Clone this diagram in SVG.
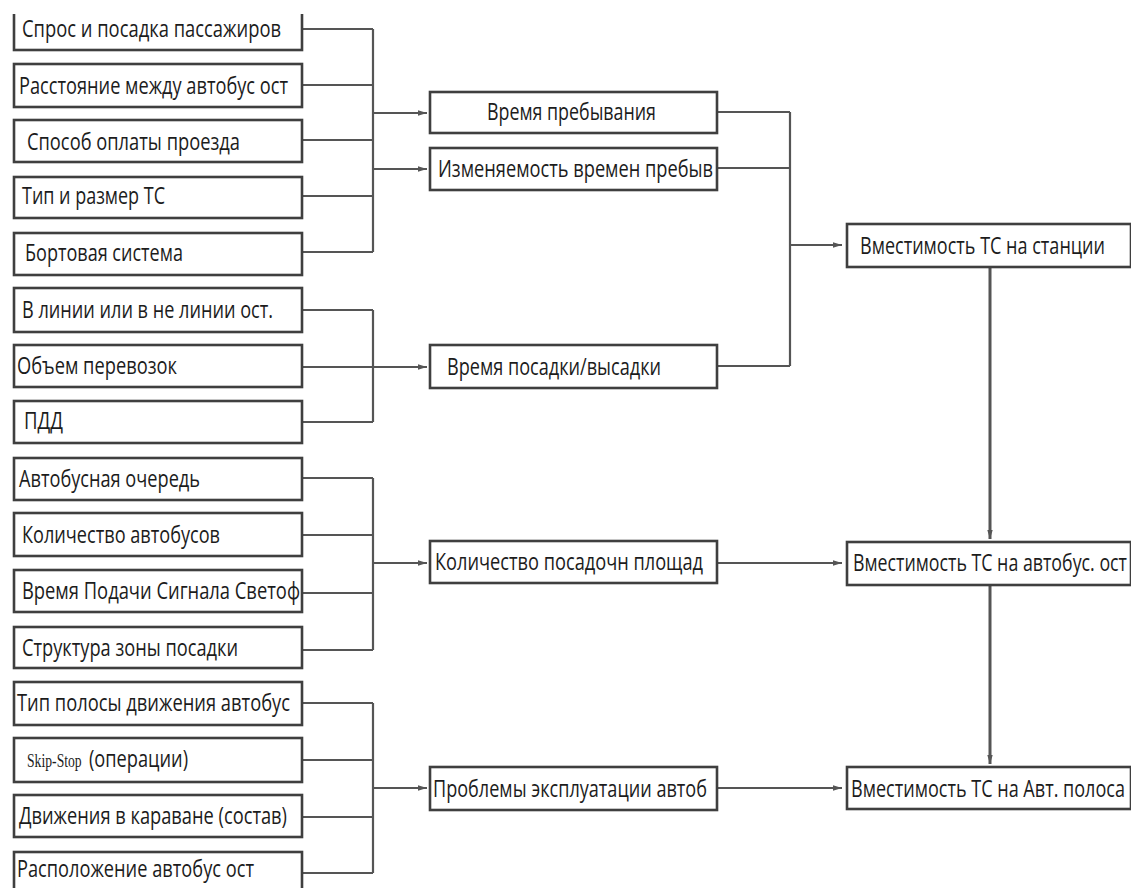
<svg xmlns="http://www.w3.org/2000/svg" width="1131" height="888" viewBox="0 0 1131 888">
<style>
.box{fill:#fff;stroke:#3f3f3f;stroke-width:2.6}
.t{font-family:"Open Sans","Noto Sans","DejaVu Sans",sans-serif;font-size:23px;fill:#1c1c1c}
.c{fill:none;stroke:#555;stroke-width:2.2}
</style>
<defs>
<marker id="ah" markerUnits="userSpaceOnUse" markerWidth="10" markerHeight="8" refX="9" refY="3.5" orient="auto">
<path d="M0,0.8 L9,3.5 L0,6.2 z" fill="#555"/>
</marker>
<clipPath id="topclip"><rect x="0" y="14" width="1131" height="874"/></clipPath>
</defs>
<rect width="1131" height="888" fill="#fff"/>

<g id="connectors">
<path class="c" d="M302,29 H373 M302,85 H373 M302,140 H373 M302,196 H373 M302,252 H373 M373,29 V252"/>
<path class="c" d="M373,113 H427" marker-end="url(#ah)"/>
<path class="c" d="M373,169 H427" marker-end="url(#ah)"/>
<path class="c" d="M302,310 H373 M302,367 H373 M302,422 H373 M373,310 V422"/>
<path class="c" d="M373,367 H427" marker-end="url(#ah)"/>
<path class="c" d="M302,478 H373 M302,535 H373 M302,593 H373 M302,650 H373 M373,478 V650"/>
<path class="c" d="M373,563 H427" marker-end="url(#ah)"/>
<path class="c" d="M302,703 H373 M302,760 H373 M302,817 H373 M302,873 H373 M373,703 V873"/>
<path class="c" d="M373,788 H427" marker-end="url(#ah)"/>
<path class="c" d="M717,112 H790 M717,168 H790 M717,366 H790 M790,112 V366"/>
<path class="c" d="M790,245 H842" marker-end="url(#ah)"/>
<path class="c" d="M717,563 H842" marker-end="url(#ah)"/>
<path class="c" d="M717,788 H842" marker-end="url(#ah)"/>
<path class="c" style="stroke-width:3" d="M990,267 V539" marker-end="url(#ah)"/>
<path class="c" style="stroke-width:3" d="M990,585 V764" marker-end="url(#ah)"/>
</g>

<g id="n1" clip-path="url(#topclip)"><rect class="box" x="14" y="8" width="288" height="42"/><text class="t" x="22" y="37" textLength="259" lengthAdjust="spacingAndGlyphs">Спрос и посадка пассажиров</text></g>
<g id="n2"><rect class="box" x="14" y="64" width="288" height="43"/><text class="t" x="19" y="94" textLength="269" lengthAdjust="spacingAndGlyphs">Расстояние между автобус ост</text></g>
<g id="n3"><rect class="box" x="14" y="120" width="288" height="42"/><text class="t" x="27" y="150" textLength="213" lengthAdjust="spacingAndGlyphs">Способ оплаты проезда</text></g>
<g id="n4"><rect class="box" x="14" y="177" width="288" height="41"/><text class="t" x="22" y="204" textLength="143" lengthAdjust="spacingAndGlyphs">Тип и размер ТС</text></g>
<g id="n5"><rect class="box" x="14" y="233" width="288" height="42"/><text class="t" x="25" y="261" textLength="158" lengthAdjust="spacingAndGlyphs">Бортовая система</text></g>

<g id="n6"><rect class="box" x="14" y="288" width="288" height="44"/><text class="t" x="22" y="318" textLength="251" lengthAdjust="spacingAndGlyphs">В линии или в не линии ост.</text></g>
<g id="n7"><rect class="box" x="14" y="345" width="288" height="42"/><text class="t" x="17" y="374" textLength="160" lengthAdjust="spacingAndGlyphs">Объем перевозок</text></g>
<g id="n8"><rect class="box" x="14" y="401" width="288" height="42"/><text class="t" x="24" y="429" textLength="39" lengthAdjust="spacingAndGlyphs">ПДД</text></g>

<g id="n9"><rect class="box" x="14" y="458" width="288" height="42"/><text class="t" x="19" y="487" textLength="181" lengthAdjust="spacingAndGlyphs">Автобусная очередь</text></g>
<g id="n10"><rect class="box" x="14" y="513" width="288" height="43"/><text class="t" x="22" y="543" textLength="198" lengthAdjust="spacingAndGlyphs">Количество автобусов</text></g>
<g id="n11"><rect class="box" x="14" y="570" width="288" height="42"/><text class="t" x="22" y="599" textLength="278" lengthAdjust="spacingAndGlyphs">Время Подачи Сигнала Светоф</text></g>
<g id="n12"><rect class="box" x="14" y="627" width="288" height="41"/><text class="t" x="22" y="656" textLength="216" lengthAdjust="spacingAndGlyphs">Структура зоны посадки</text></g>

<g id="n13"><rect class="box" x="14" y="682" width="288" height="43"/><text class="t" x="17" y="711" textLength="273" lengthAdjust="spacingAndGlyphs">Тип полосы движения автобус</text></g>
<g id="n14"><rect class="box" x="14" y="738" width="288" height="44"/><text class="t" transform="translate(27,767) scale(0.72,1)" x="0" y="0" style="font-family:'Liberation Serif',serif;font-size:19px">Skip-Stop</text><text class="t" x="89" y="767" textLength="99" lengthAdjust="spacingAndGlyphs">(операции)</text></g>
<g id="n15"><rect class="box" x="14" y="795" width="288" height="42"/><text class="t" x="19" y="824" textLength="268" lengthAdjust="spacingAndGlyphs">Движения в караване (состав)</text></g>
<g id="n16"><rect class="box" x="14" y="852" width="288" height="44"/><text class="t" x="17" y="877" textLength="237" lengthAdjust="spacingAndGlyphs">Расположение автобус ост</text></g>

<g id="m1"><rect class="box" x="430" y="92" width="287" height="41"/><text class="t" x="487" y="120" textLength="169" lengthAdjust="spacingAndGlyphs">Время пребывания</text></g>
<g id="m2"><rect class="box" x="430" y="148" width="287" height="42"/><text class="t" x="438" y="177" textLength="275" lengthAdjust="spacingAndGlyphs">Изменяемость времен пребыв</text></g>
<g id="m3"><rect class="box" x="430" y="345" width="287" height="43"/><text class="t" x="447" y="375" textLength="214" lengthAdjust="spacingAndGlyphs">Время посадки/высадки</text></g>
<g id="m4"><rect class="box" x="430" y="541" width="287" height="42"/><text class="t" x="435" y="570" textLength="268" lengthAdjust="spacingAndGlyphs">Количество посадочн площад</text></g>
<g id="m5"><rect class="box" x="430" y="767" width="287" height="43"/><text class="t" x="433" y="797" textLength="274" lengthAdjust="spacingAndGlyphs">Проблемы эксплуатации автоб</text></g>

<g id="r1"><rect class="box" x="847" y="224" width="284" height="43"/><text class="t" transform="translate(860,254) scale(0.75,1)" x="0" y="0" textLength="326.7" lengthAdjust="spacingAndGlyphs">Вместимость ТС на станции</text></g>
<g id="r2"><rect class="box" x="847" y="542" width="284" height="43"/><text class="t" transform="translate(853,571) scale(0.75,1)" x="0" y="0" textLength="365.3" lengthAdjust="spacingAndGlyphs">Вместимость ТС на автобус. ост</text></g>
<g id="r3"><rect class="box" x="847" y="767" width="284" height="42"/><text class="t" transform="translate(851,797) scale(0.75,1)" x="0" y="0" textLength="365.3" lengthAdjust="spacingAndGlyphs">Вместимость ТС на Авт. полоса</text></g>
</svg>
